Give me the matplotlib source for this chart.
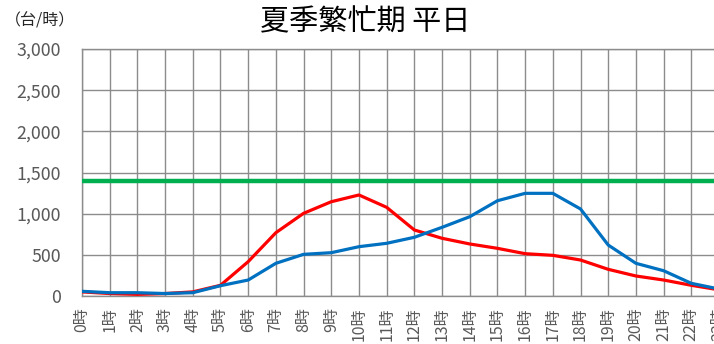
import numpy as np
import matplotlib.pyplot as plt

plt.rcParams['font.family'] = ['Noto Sans CJK JP', 'DejaVu Sans']

#### DATA ####
hours = [f'{h}時' for h in range(24)]
traffic_red = [50, 30, 20, 30, 50, 130, 417, 769, 1004, 1145, 1227, 1077,
               802, 701, 632, 579, 514, 494, 437, 324, 243, 194, 130, 75]
traffic_blue = [57, 40, 40, 30, 40, 125, 194, 397, 506, 526, 599, 640,
                713, 834, 963, 1157, 1247, 1247, 1057, 619, 397, 307, 154, 85]
capacity = 1400
yticks = [0, 500, 1000, 1500, 2000, 2500, 3000]

#### PLOT ####
W, H = 714, 344
fig = plt.figure(figsize=(W / 100, H / 100), dpi=100)
# plot area runs past the right edge of the figure (last hour is clipped)
ax = fig.add_axes([82 / W, (H - 296) / H, (719 - 82) / W, (296 - 49) / H])

x = np.arange(len(hours))
ax.plot(x, traffic_red, color='#FF0000', lw=2.3, zorder=3, solid_joinstyle='round')
ax.plot(x, traffic_blue, color='#0070C0', lw=2.3, zorder=4, solid_joinstyle='round')
ax.plot(x, [capacity] * len(x), color='#00B050', lw=3.2, zorder=5)

ax.set_xlim(0, len(hours) - 1)
ax.set_ylim(0, 3000)
ax.set_xticks(x)
ax.set_xticklabels(hours, rotation=90, fontsize=11.5, color='#595959')
ax.set_yticks(yticks)
ax.set_yticklabels([f'{v:,}' for v in yticks], fontsize=12.8, color='#595959')
ax.tick_params(length=0)
ax.tick_params(axis='y', pad=15)
ax.tick_params(axis='x', pad=8)

ax.grid(True, color='#8c8c8c', lw=1)
ax.set_axisbelow(True)
for s in ax.spines.values():
    s.set_color('#8c8c8c')
    s.set_linewidth(1)

fig.text(365 / W, 1 - 22 / H, '夏季繁忙期 平日', fontsize=21, ha='center', va='center', color='black')
fig.text(5 / W, 1 - 21 / H, '（台/時）', fontsize=11.5, ha='left', va='center', color='#262626')

fig.savefig('out.png', dpi=100)
